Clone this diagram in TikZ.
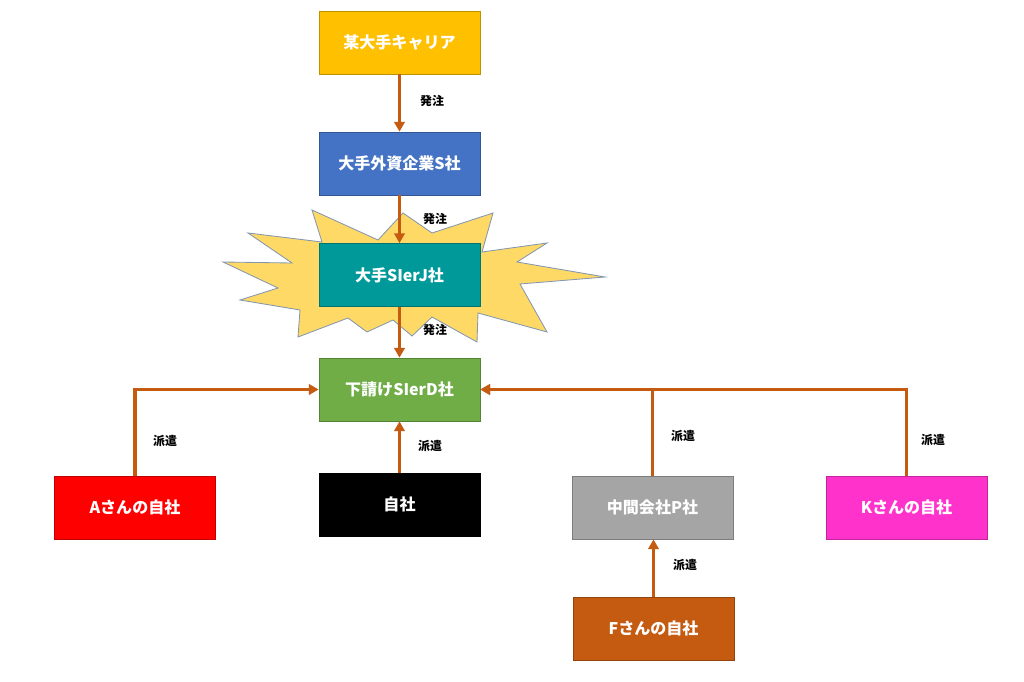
\documentclass[tikz,border=0pt]{standalone}
\usepackage{fontspec}
\setmainfont{Noto Sans CJK JP}
\usetikzlibrary{positioning, calc, arrows.meta}
\definecolor{carrier}{HTML}{FFC000}
\definecolor{gaishi}{HTML}{4472C4}
\definecolor{teal2}{HTML}{00999A}
\definecolor{verde}{HTML}{70AD47}
\definecolor{grigio}{HTML}{A5A5A5}
\definecolor{rosa}{HTML}{FF33CC}
\definecolor{marrone}{HTML}{C55A11}
\definecolor{scoppio}{HTML}{FFD966}
\definecolor{bordo}{HTML}{8497B0}
\tikzset{
  ditta/.style={draw=#1!75!black, fill=#1, line width=0.5pt, minimum width=4.025cm,
    minimum height=1.575cm, text=white, font=\bfseries\fontsize{11.4}{13}\selectfont},
  freccia/.style={draw=marrone, line width=2.2pt, -{Triangle[length=7pt,width=7.5pt]}},
  etichetta/.style={font=\bfseries\fontsize{8.5}{10}\selectfont, text=black}
}
\begin{document}
\begin{tikzpicture}[x=0.025cm, y=-0.025cm]
        \useasboundingbox (0,0) rectangle (1024,682);
        %scoppio
        \draw[fill=scoppio, draw=bordo, line width=0.6pt]
          (312,210) -- (378,240) -- (403,213) -- (432,233) -- (493,213)
          -- (482,252) -- (547,243) -- (517,262) -- (605,277) -- (520,284)
          -- (547,332) -- (478,313) -- (477,342) -- (432,317) -- (412,336)
          -- (393,320) -- (367,332) -- (348,318) -- (298,337) -- (300,310)
          -- (240,300) -- (278,288) -- (223,262) -- (292,263) -- (248,233)
          -- (322,242) -- cycle;
        %riquadri
        \node[ditta=carrier] (carrier) at (399.5,42.5) {某大手キャリア};
        \node[ditta=gaishi] (gaishiS) at (399.5,163.5) {大手外資企業S社};
        \node[ditta=teal2] (sierJ) at (399.5,275) {大手SIerJ社};
        \node[ditta=verde] (sierD) at (399.5,389.5) {下請けSIerD社};
        \node[ditta=red] (jishaA) at (135,507.5) {Aさんの自社};
        \node[ditta=black, draw=black] (jisha) at (399.5,504.5) {自社};
        \node[ditta=grigio] (chukanP) at (652.5,507.5) {中間会社P社};
        \node[ditta=rosa] (jishaK) at (906.5,507.5) {Kさんの自社};
        \node[ditta=marrone] (jishaF) at (653.5,628.5) {Fさんの自社};
        %ordini
        \draw[freccia] (carrier) -- (gaishiS);
        \draw[freccia] (gaishiS) -- (sierJ);
        \draw[freccia] (sierJ) -- (sierD);
        \node[etichetta] (hacchu1) at (432,101) {発注};
        \node[etichetta] (hacchu2) at (435,219) {発注};
        \node[etichetta] (hacchu3) at (435,330) {発注};
        %invii
        \draw[freccia] (jishaA.north) |- (sierD.west);
        \draw[freccia] (jisha) -- (sierD);
        \draw[freccia] (chukanP.north) |- (sierD.east);
        \draw[freccia] (jishaK.north) |- (sierD.east);
        \draw[freccia] (jishaF.north) -- (jishaF.north |- chukanP.south);
        \node[etichetta] (haken1) at (165,441) {派遣};
        \node[etichetta] (haken2) at (430,446) {派遣};
        \node[etichetta] (haken3) at (683,436) {派遣};
        \node[etichetta] (haken4) at (933,440) {派遣};
        \node[etichetta] (haken5) at (685,565) {派遣};
\end{tikzpicture}
\end{document}
